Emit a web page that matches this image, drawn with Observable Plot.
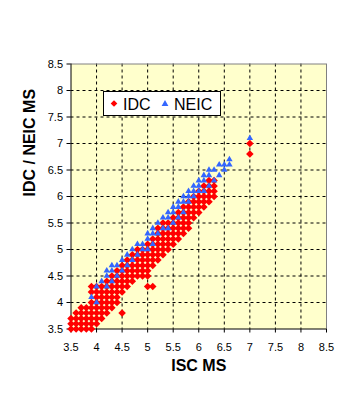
<!DOCTYPE html>
<html>
<head>
<meta charset="utf-8">
<script src="https://cdn.jsdelivr.net/npm/d3@7"></script>
<script src="https://cdn.jsdelivr.net/npm/@observablehq/plot@0.6"></script>
<style>
  body { margin: 0; background: white; }
  #wrap { position: relative; width: 351px; height: 408px; font-family: "Liberation Sans", Arial, sans-serif; }
  #legend { position: absolute; left: 103px; top: 91px; width: 116px; height: 23px; border: 1px solid black; background: white; }
</style>
</head>
<body>
<div id="wrap"></div>
<script>
// Tick values
const xTicks = [3.5, 4, 4.5, 5, 5.5, 6, 6.5, 7, 7.5, 8, 8.5];
const yTicks = [3.5, 4, 4.5, 5, 5.5, 6, 6.5, 7, 7.5, 8, 8.5];
const seriesNames = ["IDC", "NEIC"];

// IDC MS values per ISC MS column: [ISC MS, [IDC MS values]]
const idcCols = [
  [3.5, [3.5, 3.6, 3.7]],
  [3.6, [3.5, 3.6, 3.7, 3.8]],
  [3.7, [3.5, 3.6, 3.7, 3.8, 3.9]],
  [3.8, [3.5, 3.6, 3.7, 3.8, 3.9]],
  [3.9, [3.5, 3.6, 3.7, 3.8, 3.9, 4.0, 4.2, 4.3]],
  [4.0, [3.6, 3.7, 3.8, 3.9, 4.0, 4.1, 4.2, 4.3]],
  [4.1, [3.7, 3.8, 3.9, 4.0, 4.1, 4.2, 4.3]],
  [4.2, [3.8, 3.9, 4.0, 4.1, 4.2, 4.3, 4.4]],
  [4.3, [3.9, 4.0, 4.1, 4.2, 4.3, 4.4, 4.5]],
  [4.4, [4.0, 4.1, 4.2, 4.3, 4.4, 4.5, 4.6]],
  [4.5, [3.8, 4.2, 4.3, 4.4, 4.5, 4.6, 4.7]],
  [4.6, [4.3, 4.4, 4.5, 4.6, 4.7, 4.8]],
  [4.7, [4.4, 4.5, 4.6, 4.7, 4.8, 4.9]],
  [4.8, [4.5, 4.6, 4.7, 4.8, 4.9, 5.0]],
  [4.9, [4.5, 4.6, 4.7, 4.8, 4.9, 5.0]],
  [5.0, [4.3, 4.5, 4.6, 4.7, 4.8, 4.9, 5.0, 5.1]],
  [5.1, [4.3, 4.7, 4.8, 4.9, 5.0, 5.1, 5.2]],
  [5.2, [4.8, 4.9, 5.0, 5.1, 5.2, 5.3, 5.4]],
  [5.3, [4.9, 5.0, 5.1, 5.2, 5.3, 5.4, 5.5]],
  [5.4, [5.0, 5.1, 5.2, 5.3, 5.4, 5.5]],
  [5.5, [5.1, 5.2, 5.3, 5.4, 5.5, 5.6]],
  [5.6, [5.2, 5.3, 5.4, 5.5, 5.6, 5.7]],
  [5.7, [5.3, 5.4, 5.5, 5.6, 5.7, 5.8]],
  [5.8, [5.4, 5.5, 5.6, 5.7, 5.8, 5.9]],
  [5.9, [5.6, 5.7, 5.8, 5.9, 6.0]],
  [6.0, [5.7, 5.8, 5.9, 6.0, 6.1]],
  [6.1, [5.8, 5.9, 6.0, 6.1, 6.2]],
  [6.2, [5.9, 6.0, 6.1, 6.2, 6.3]],
  [6.3, [6.0, 6.1, 6.2, 6.3]],
  [7.0, [6.8, 7.0]]
];

// NEIC MS values per ISC MS column
const neicCols = [
  [3.9, [4.1]],
  [4.0, [4.0, 4.3]],
  [4.1, [4.4]],
  [4.2, [4.3, 4.5, 4.6]],
  [4.3, [4.4, 4.6, 4.7]],
  [4.4, [4.5, 4.7]],
  [4.5, [4.6, 4.8]],
  [4.6, [4.7, 4.9]],
  [4.7, [4.8, 5.0]],
  [4.8, [4.9, 5.1]],
  [4.9, [5.0, 5.1]],
  [5.0, [5.0, 5.2, 5.3]],
  [5.1, [5.1, 5.3, 5.4]],
  [5.2, [5.3, 5.5]],
  [5.3, [5.4, 5.6]],
  [5.4, [5.4, 5.6, 5.7]],
  [5.5, [5.5, 5.7, 5.8]],
  [5.6, [5.6, 5.8, 5.9]],
  [5.7, [5.7, 5.9, 6.0]],
  [5.8, [5.9, 6.0, 6.1]],
  [5.9, [6.0, 6.1, 6.2]],
  [6.0, [6.1, 6.2, 6.3]],
  [6.1, [6.1, 6.3, 6.4]],
  [6.2, [6.2, 6.4, 6.5]],
  [6.3, [6.3, 6.5]],
  [6.4, [6.4, 6.6]],
  [6.5, [6.5, 6.6]],
  [6.6, [6.6, 6.7]],
  [7.0, [7.1]]
];

const toPoints = cols => cols.flatMap(([x, ys]) => ys.map(y => ({x, y})));
const idc = toPoints(idcCols);
const neic = toPoints(neicCols);

const RED = "#FF0000";
const BLUE = "#3366FF";
const FONT = "Liberation Sans, Arial, sans-serif";
const innerX = xTicks.slice(1, -1);
const innerY = yTicks.slice(1, -1);

const chart = Plot.plot({
  width: 351,
  height: 408,
  marginLeft: 70.5,
  marginRight: 25,
  marginTop: 63.5,
  marginBottom: 79.5,
  style: {background: "white", fontFamily: FONT, color: "black"},
  x: {domain: [3.5, 8.5]},
  y: {domain: [3.5, 8.5]},
  marks: [
    Plot.frame({fill: "#FFFFCC", stroke: null}),
    Plot.ruleX(innerX, {stroke: "black", strokeDasharray: "3,3", strokeWidth: 1}),
    Plot.ruleY(innerY, {stroke: "black", strokeDasharray: "3,3", strokeWidth: 1}),
    Plot.ruleX([8.5], {stroke: "#808080"}),
    Plot.ruleY([8.5], {stroke: "#808080"}),
    Plot.ruleX([3.5], {stroke: "black"}),
    Plot.ruleY([3.5], {stroke: "black"}),
    Plot.axisX({ticks: xTicks, tickFormat: d => String(d), tickSize: 4, tickPadding: 10, fontSize: 11, label: null}),
    Plot.axisY({ticks: yTicks, tickFormat: d => String(d), tickSize: 4, tickPadding: 4, fontSize: 11, label: null}),
    Plot.dot(idc, {x: "x", y: "y", symbol: "diamond2", r: 3.4, fill: RED, stroke: null}),
    Plot.dot(neic, {x: "x", y: "y", symbol: "triangle", r: 2.4, fill: BLUE, stroke: null}),
    Plot.text(["ISC MS"], {frameAnchor: "bottom", dy: 41.5, text: d => d, fontSize: 16, fontWeight: "bold", fill: "black"}),
    Plot.text(["IDC / NEIC MS"], {frameAnchor: "left", dx: -41, rotate: -90, text: d => d, fontSize: 16, fontWeight: "bold", fill: "black"})
  ]
});

const wrap = document.getElementById("wrap");
wrap.appendChild(chart);

// Legend overlay
const legend = document.createElement("div");
legend.id = "legend";
legend.innerHTML = `<svg width="116" height="23" style="display:block;font-family:${FONT}">
  <path transform="translate(10,11.5)" d="${d3.symbol(d3.symbolDiamond2, Math.PI * 3.0 * 3.0)()}" fill="${RED}"/>
  <text x="19" y="17.5" font-size="16" fill="black">${seriesNames[0]}</text>
  <path transform="translate(61,12)" d="${d3.symbol(d3.symbolTriangle, Math.PI * 2.5 * 2.5)()}" fill="${BLUE}"/>
  <text x="70" y="17.5" font-size="16" fill="black">${seriesNames[1]}</text>
</svg>`;
wrap.appendChild(legend);
</script>
</body>
</html>
